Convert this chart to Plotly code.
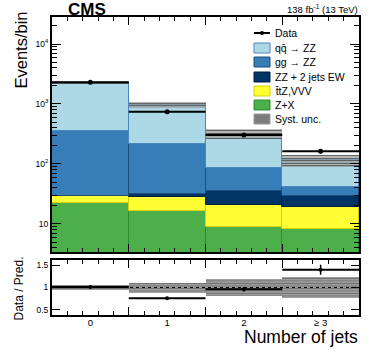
import plotly.graph_objects as go

# ---- data ----
bins = [0, 1, 2, 3]
bin_labels = ["0", "1", "2", "\u2265 3"]
zx = [22.1, 16.5, 8.9, 8.35]          # Z+X
ttz_vvv = [7.4, 12.0, 11.8, 10.65]    # ttZ, VVV
zz_ew = [0.1, 3.1, 14.4, 10.3]        # ZZ + 2 jets EW
gg_zz = [329, 183, 52, 12.5]          # gg -> ZZ
qq_zz = [1921, 765, 231, 75]          # qqbar -> ZZ
data = [2300, 743, 305, 163]
data_err = [48, 27, 17, 13]
syst_rel = [0.06, 0.11, 0.19, 0.23]
ratio_err = [0.02, 0.03, 0.05, 0.11]

W, H = 374, 363
FONT = "Liberation Sans, Arial, Helvetica, sans-serif"


def px_x(p):
    return p / W


def px_y(p):
    return 1 - p / H


components = [
    ("Z+X", zx, "#4daf4a", "#2e8b2e"),
    ("t\u0304tZ,VVV", ttz_vvv, "#ffff33", "#d4d400"),
    ("ZZ + 2 jets EW", zz_ew, "#003366", "#001f40"),
    ("gg \u2192 ZZ", gg_zz, "#377eb8", "#1f4e79"),
    ("qq\u0304 \u2192 ZZ", qq_zz, "#add8e6", "#4a86c0"),
]

fig = go.Figure()

base = [0.0] * len(bins)
for name, vals, col, edge in components:
    fig.add_trace(go.Bar(
        x=bins, y=vals, base=list(base), width=1.0, name=name,
        marker=dict(color=col, line=dict(color=edge, width=1)),
        showlegend=False, xaxis="x", yaxis="y",
    ))
    base = [b + v for b, v in zip(base, vals)]
total = base

# systematic band, upper panel
lo = [t * (1 - s) for t, s in zip(total, syst_rel)]
hi = [t * (1 + s) for t, s in zip(total, syst_rel)]
fig.add_trace(go.Bar(
    x=bins, y=[h - l for h, l in zip(hi, lo)], base=lo, width=1.0,
    marker=dict(color="rgba(200,200,200,0.6)", line=dict(width=0),
                pattern=dict(shape="-", fgcolor="#3c3c3c", bgcolor="rgba(200,200,200,0.6)",
                             size=2.5, solidity=0.45)),
    showlegend=False, xaxis="x", yaxis="y",
))

fig.add_trace(go.Scatter(
    x=bins, y=data, mode="markers",
    marker=dict(color="black", size=5),
    error_x=dict(type="constant", value=0.5, color="black", thickness=2, width=0),
    error_y=dict(type="data", array=data_err, color="black", thickness=1.5, width=0),
    showlegend=False, xaxis="x", yaxis="y",
))

# ratio panel
fig.add_trace(go.Bar(
    x=bins, y=[2 * s for s in syst_rel], base=[1 - s for s in syst_rel], width=1.0,
    marker=dict(color="#9a9a9a", line=dict(width=0),
                pattern=dict(shape="-", fgcolor="#6e6e6e", bgcolor="#a8a8a8",
                             size=2.5, solidity=0.45)),
    showlegend=False, xaxis="x2", yaxis="y2",
))
ratio = [d / t for d, t in zip(data, total)]
fig.add_trace(go.Scatter(
    x=bins, y=ratio, mode="markers",
    marker=dict(color="black", size=4),
    error_x=dict(type="constant", value=0.5, color="black", thickness=2, width=0),
    error_y=dict(type="data", array=ratio_err, color="black", thickness=1.5, width=0),
    showlegend=False, xaxis="x3", yaxis="y2",
))

xdom = [px_x(52), px_x(359)]
edges = [-0.5, 0.5, 1.5, 2.5, 3.5]
common_x = dict(
    range=[-0.5, 3.5], domain=xdom, showline=True, linewidth=2, linecolor="black",
    mirror="ticks", ticks="inside", ticklen=8, tickwidth=1.2, tickcolor="black",
    tickmode="array", tickvals=edges, showticklabels=False, showgrid=False, zeroline=False,
    minor=dict(tick0=-0.5, dtick=0.2, ticks="inside", ticklen=4, tickcolor="black", showgrid=False),
)

fig.update_layout(
    template="none",
    width=W, height=H,
    margin=dict(l=0, r=0, t=0, b=0),
    paper_bgcolor="white", plot_bgcolor="white",
    barmode="overlay", bargap=0,
    font=dict(family=FONT, color="black"),
    showlegend=False,
    xaxis=dict(common_x, anchor="y"),
    yaxis=dict(
        type="log", range=[0.533, 4.45], domain=[px_y(252), px_y(17)], anchor="x",
        showline=True, linewidth=2, linecolor="black", mirror="ticks",
        ticks="inside", ticklen=9, tickwidth=1.2, tickcolor="black",
        tickmode="array", tickvals=[10, 100, 1000, 10000],
        ticktext=["10", "10<sup>2</sup>", "10<sup>3</sup>", "10<sup>4</sup>"],
        tickfont=dict(size=8.5), showgrid=False, zeroline=False,
        minor=dict(dtick="D1", ticks="inside", ticklen=5, tickcolor="black", showgrid=False),
    ),
    xaxis2=dict(common_x, anchor="y2"),
    yaxis2=dict(
        range=[0.385, 1.62], domain=[px_y(315), px_y(259.7)], anchor="x2",
        showline=True, linewidth=2, linecolor="black", mirror="ticks",
        ticks="inside", ticklen=8, tickwidth=1.2, tickcolor="black",
        tickmode="array", tickvals=[0.5, 1, 1.5], ticktext=["0.5", "1", "1.5"],
        tickfont=dict(size=8.5), showgrid=False, zeroline=False,
    ),
    xaxis3=dict(
        range=[-0.5, 3.5], domain=xdom, anchor="y2", overlaying="x2", side="bottom",
        showline=False, ticks="", tickmode="array", tickvals=bins, ticktext=bin_labels,
        tickfont=dict(size=9.5), showgrid=False, zeroline=False,
    ),
)

# dotted unity line in ratio panel
fig.add_shape(type="line", xref="x2 domain", yref="y2", x0=0, x1=1, y0=1, y1=1,
              line=dict(color="black", width=1, dash="dot"))

ann = [
    dict(text="<b>CMS</b>", x=px_x(66), y=px_y(21), xanchor="left", yanchor="bottom",
         font=dict(size=17)),
    dict(text="138 fb<sup>-1</sup> (13 TeV)", x=px_x(360), y=px_y(17), xanchor="right",
         yanchor="bottom", font=dict(size=9.5)),
    dict(text="Events/bin", x=px_x(20), y=px_y(10), xanchor="center", yanchor="top",
         textangle=-90, font=dict(size=16.5)),
    dict(text="Data / Pred.", x=px_x(18), y=px_y(288.5), xanchor="center", yanchor="middle",
         textangle=-90, font=dict(size=12)),
    dict(text="Number of jets", x=px_x(360), y=px_y(337), xanchor="right", yanchor="middle",
         font=dict(size=17.5)),
]

# legend (drawn by hand, ROOT style)
leg_rows = [33, 48, 62, 77, 91, 105, 119]
leg_items = [("Data", None, None)] + [(n, c, e) for n, _, c, e in components[::-1]] + \
            [("Syst. unc.", "#7c7c7c", "#9a9a9a")]
for row, (name, col, edge) in zip(leg_rows, leg_items):
    if name == "Data":
        fig.add_shape(type="line", xref="paper", yref="paper",
                      x0=px_x(254), x1=px_x(270), y0=px_y(row), y1=px_y(row),
                      line=dict(color="black", width=2))
        fig.add_shape(type="circle", xref="paper", yref="paper",
                      x0=px_x(260), x1=px_x(264), y0=px_y(row + 2), y1=px_y(row - 2),
                      fillcolor="black", line=dict(color="black", width=0))
    else:
        fig.add_shape(type="rect", xref="paper", yref="paper",
                      x0=px_x(254), x1=px_x(270), y0=px_y(row + 5), y1=px_y(row - 5),
                      fillcolor=col, line=dict(color=edge, width=1))
    ann.append(dict(text=name, x=px_x(273), y=px_y(row), xanchor="left", yanchor="middle",
                    font=dict(size=10.5)))

for a in ann:
    a.update(xref="paper", yref="paper", showarrow=False)
fig.update_layout(annotations=ann)

fig.write_html("out.html", config={"displayModeBar": False},
               post_script="document.body.style.margin='0';")
